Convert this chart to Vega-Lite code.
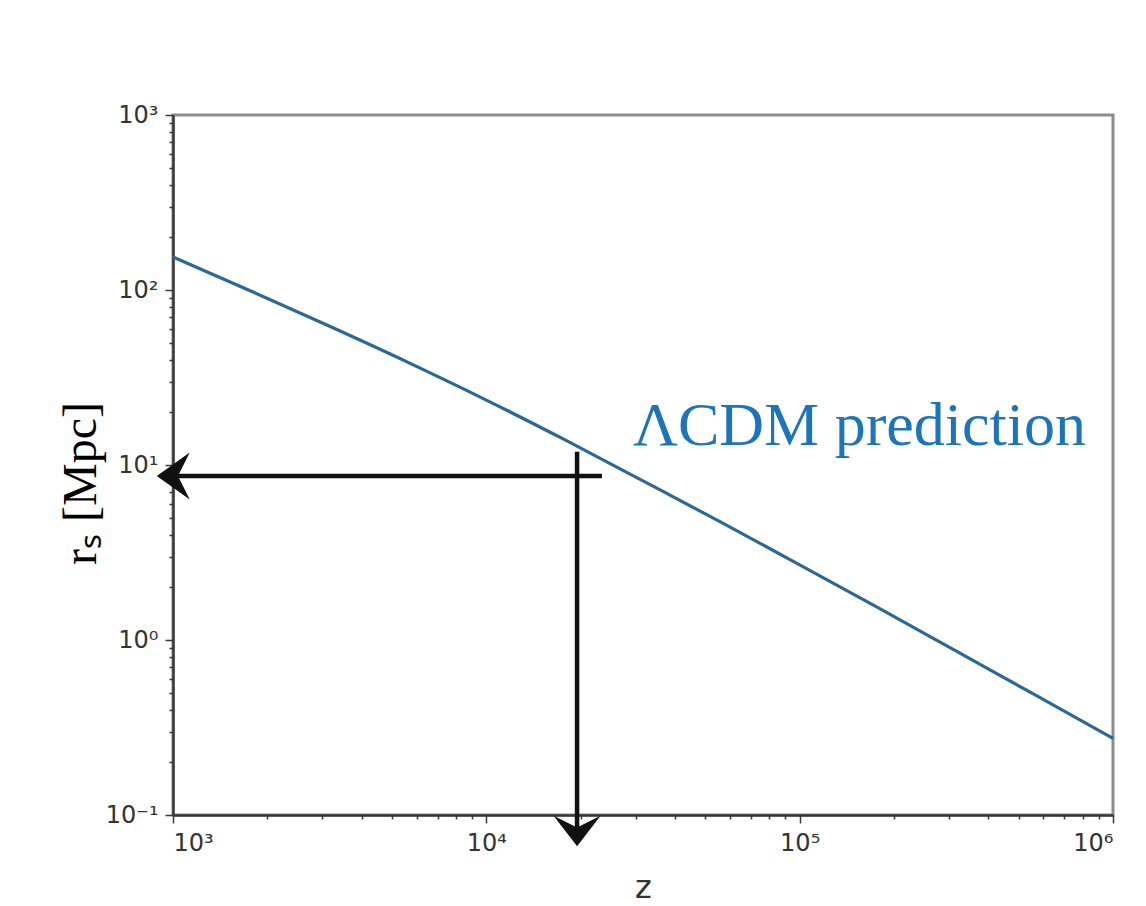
{
  "$schema": "https://vega.github.io/schema/vega-lite/v6.json",
  "width": 940,
  "height": 700,
  "autosize": {"type": "none"},
  "padding": {"left": 173, "top": 115, "right": 33, "bottom": 91},
  "background": "white",
  "config": {
    "view": {"stroke": "#8c8c8c", "strokeWidth": 3},
    "axis": {
      "labelFont": "DejaVu Sans",
      "labelFontSize": 24,
      "labelColor": "#333333",
      "domainColor": "#3a3a3a",
      "domainWidth": 2.5,
      "tickColor": "#3a3a3a",
      "tickWidth": 1.5,
      "grid": false
    }
  },
  "datasets": {
    "curve": [
      {"z": 1000, "r": 154.5},
      {"z": 1778, "r": 98.4},
      {"z": 3162, "r": 62.0},
      {"z": 5623, "r": 38.6},
      {"z": 10000, "r": 23.5},
      {"z": 17783, "r": 13.95},
      {"z": 31623, "r": 8.11},
      {"z": 56234, "r": 4.70},
      {"z": 100000, "r": 2.69},
      {"z": 177828, "r": 1.53},
      {"z": 316228, "r": 0.863},
      {"z": 562341, "r": 0.487},
      {"z": 1000000, "r": 0.274}
    ],
    "hrule": [{"z": 23390, "z2": 943, "r": 8.65}],
    "vrule": [{"z": 19480, "r": 11.9, "r2": 0.072}],
    "headLeft": [{"z": 1002, "r": 8.65}],
    "headDown": [{"z": 19480, "r": 0.081}],
    "label": [{"z": 29380, "r": 13.0, "text": "ΛCDM prediction"}]
  },
  "layer": [
    {
      "data": {"name": "curve"},
      "mark": {"type": "line", "stroke": "#2b6896", "strokeWidth": 3.2, "interpolate": "monotone"},
      "encoding": {
        "x": {
          "field": "z",
          "type": "quantitative",
          "scale": {"type": "log", "domain": [1000, 1000000], "nice": false},
          "axis": {
            "title": "z",
            "titleFont": "DejaVu Sans",
            "titleFontSize": 32,
            "titleFontWeight": "normal",
            "titleColor": "#333333",
            "titleBaseline": "alphabetic",
            "titleY": 82,
            "values": [1000, 2000, 3000, 4000, 5000, 6000, 7000, 8000, 9000, 10000, 20000, 30000, 40000, 50000, 60000, 70000, 80000, 90000, 100000, 200000, 300000, 400000, 500000, 600000, 700000, 800000, 900000, 1000000],
            "tickSize": {"condition": {"test": "abs(log(datum.value)/LN10 - round(log(datum.value)/LN10)) < 0.000001", "value": 8}, "value": 4},
            "labelPadding": 8,
            "labelExpr": "abs(log(datum.value)/LN10 - round(log(datum.value)/LN10)) < 0.000001 ? (round(log(datum.value)/LN10) == 3 ? '10³' : round(log(datum.value)/LN10) == 4 ? '10⁴' : round(log(datum.value)/LN10) == 5 ? '10⁵' : '10⁶') : ''"
          }
        },
        "y": {
          "field": "r",
          "type": "quantitative",
          "scale": {"type": "log", "domain": [0.1, 1000], "nice": false},
          "axis": {
            "title": "rₛ [Mpc]",
            "titleFont": "Liberation Serif",
            "titleFontSize": 48,
            "titleFontWeight": "normal",
            "titleColor": "#000000",
            "titleAngle": -90,
            "titleBaseline": "middle",
            "titleX": -92,
            "titleY": 368,
            "values": [0.1, 0.2, 0.3, 0.4, 0.5, 0.6, 0.7, 0.8, 0.9, 1, 2, 3, 4, 5, 6, 7, 8, 9, 10, 20, 30, 40, 50, 60, 70, 80, 90, 100, 200, 300, 400, 500, 600, 700, 800, 900, 1000],
            "tickSize": {"condition": {"test": "abs(log(datum.value)/LN10 - round(log(datum.value)/LN10)) < 0.000001", "value": 8}, "value": 4},
            "labelPadding": 7,
            "labelExpr": "abs(log(datum.value)/LN10 - round(log(datum.value)/LN10)) < 0.000001 ? (round(log(datum.value)/LN10) == -1 ? '10⁻¹' : round(log(datum.value)/LN10) == 0 ? '10⁰' : round(log(datum.value)/LN10) == 1 ? '10¹' : round(log(datum.value)/LN10) == 2 ? '10²' : '10³') : ''"
          }
        }
      }
    },
    {
      "data": {"name": "hrule"},
      "mark": {"type": "rule", "stroke": "#111111", "strokeWidth": 4.5},
      "encoding": {
        "x": {"field": "z", "type": "quantitative"},
        "x2": {"field": "z2"},
        "y": {"field": "r", "type": "quantitative"}
      }
    },
    {
      "data": {"name": "vrule"},
      "mark": {"type": "rule", "stroke": "#111111", "strokeWidth": 4.5},
      "encoding": {
        "x": {"field": "z", "type": "quantitative"},
        "y": {"field": "r", "type": "quantitative"},
        "y2": {"field": "r2"}
      }
    },
    {
      "data": {"name": "headLeft"},
      "mark": {"type": "point", "shape": "M0.7,-1 L-0.7,0 L0.7,1 L0.2,0 Z", "size": 2209, "filled": true, "fill": "#111111", "opacity": 1},
      "encoding": {
        "x": {"field": "z", "type": "quantitative"},
        "y": {"field": "r", "type": "quantitative"}
      }
    },
    {
      "data": {"name": "headDown"},
      "mark": {"type": "point", "shape": "M-1,-0.65 L0,0.65 L1,-0.65 L0,-0.15 Z", "size": 2209, "filled": true, "fill": "#111111", "opacity": 1},
      "encoding": {
        "x": {"field": "z", "type": "quantitative"},
        "y": {"field": "r", "type": "quantitative"}
      }
    },
    {
      "data": {"name": "label"},
      "mark": {"type": "text", "font": "Liberation Serif", "fontSize": 62, "color": "#1c75bc", "align": "left", "baseline": "alphabetic"},
      "encoding": {
        "x": {"field": "z", "type": "quantitative"},
        "y": {"field": "r", "type": "quantitative"},
        "text": {"field": "text"}
      }
    }
  ]
}
